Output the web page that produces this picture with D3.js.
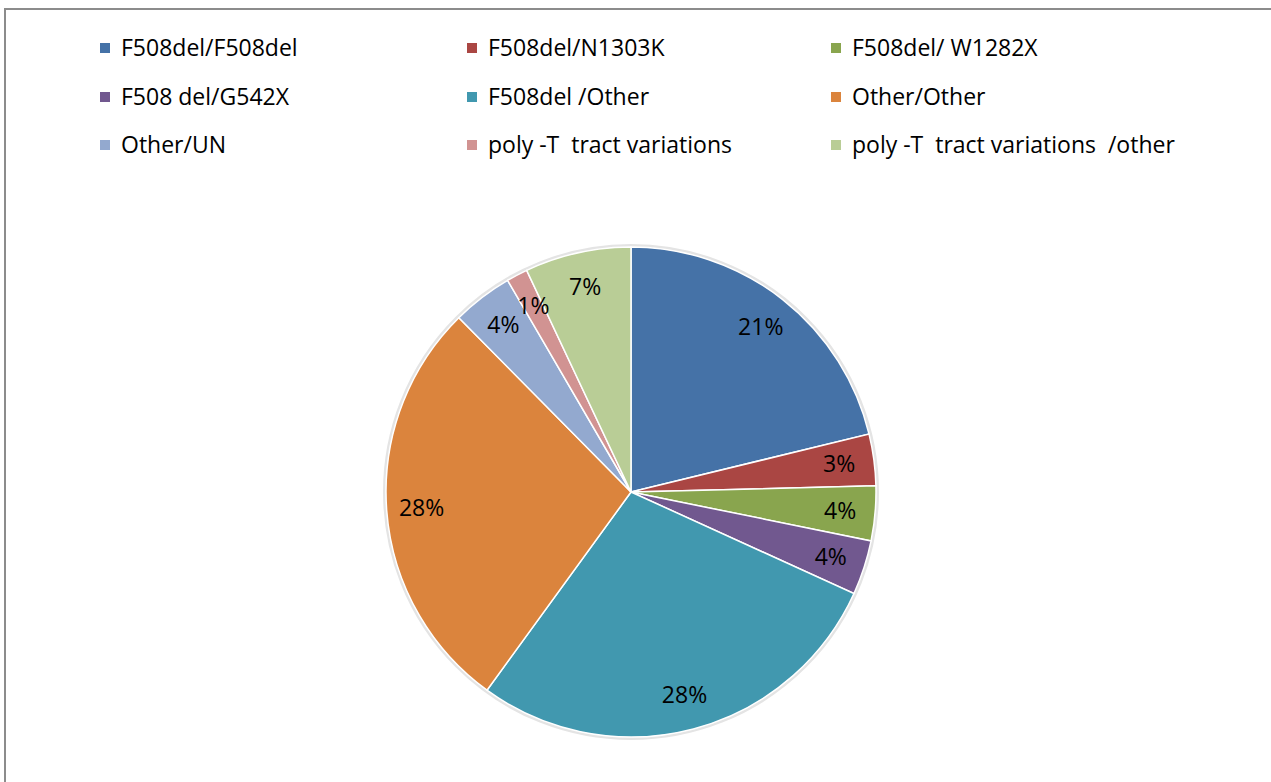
<!DOCTYPE html>
<html>
<head>
<meta charset="utf-8">
<script src="https://cdn.jsdelivr.net/npm/d3@7"></script>
<style>
  body { margin: 0; background: #fff; }
  svg text { font-family: "Open Sans", sans-serif; white-space: pre; }
</style>
</head>
<body>
<svg id="chart" width="1271" height="782"></svg>
<script>
// genotype categories, in slice order (clockwise from 12 o'clock)
const categories = [
  "F508del/F508del", "F508del/N1303K", "F508del/ W1282X",
  "F508 del/G542X", "F508del /Other", "Other/Other",
  "Other/UN", "poly -T  tract variations", "poly -T  tract variations  /other"
];
// share of patients, percent
const values = [21.2, 3.4, 3.6, 3.6, 28.2, 27.6, 4.0, 1.4, 7.0];
const colors = ["#4572A7", "#AA4643", "#89A54E", "#71588F", "#4198AF",
                "#DB843D", "#93A9CF", "#D19392", "#B9CD96"];

const svg = d3.select("#chart");

// chart frame
svg.append("rect")
  .attr("x", 5).attr("y", 9)
  .attr("width", 1290).attr("height", 800)
  .attr("fill", "none")
  .attr("stroke", "#8c8c8c")
  .attr("stroke-width", 2);

const data = categories.map((c, i) => ({ name: c, value: values[i] }));
const color = d3.scaleOrdinal().domain(categories).range(colors);

// legend, 3 columns
const legendX = [121, 488, 852];
const legendY = [56, 105, 153];
const legend = svg.append("g").selectAll("g")
  .data(data)
  .join("g")
  .attr("transform", (d, i) => `translate(${legendX[i % 3]},${legendY[Math.floor(i / 3)]})`);

legend.append("rect")
  .attr("x", -21).attr("y", -13)
  .attr("width", 10).attr("height", 10)
  .attr("fill", d => color(d.name));

legend.append("text")
  .attr("font-size", 23)
  .attr("fill", "#000")
  .text(d => d.name);

// pie
const R = 245;
const g = svg.append("g").attr("transform", "translate(631,492)");

const pie = d3.pie().sort(null).value(d => d.value);
const arc = d3.arc().innerRadius(0).outerRadius(R);
const labelArc = d3.arc().innerRadius(210).outerRadius(210);

g.append("circle")
  .attr("r", R + 1.5)
  .attr("fill", "none")
  .attr("stroke", "#e4e4e4")
  .attr("stroke-width", 3);

g.selectAll("path")
  .data(pie(data))
  .join("path")
  .attr("d", arc)
  .attr("fill", d => color(d.data.name))
  .attr("stroke", "#fff")
  .attr("stroke-width", 1.5);

g.selectAll("text.lbl")
  .data(pie(data))
  .join("text")
  .attr("class", "lbl")
  .attr("transform", d => `translate(${labelArc.centroid(d)})`)
  .attr("text-anchor", "middle")
  .attr("dy", "0.35em")
  .attr("font-size", 23)
  .attr("fill", "#000")
  .text(d => Math.round(d.data.value) + "%");
</script>
</body>
</html>
